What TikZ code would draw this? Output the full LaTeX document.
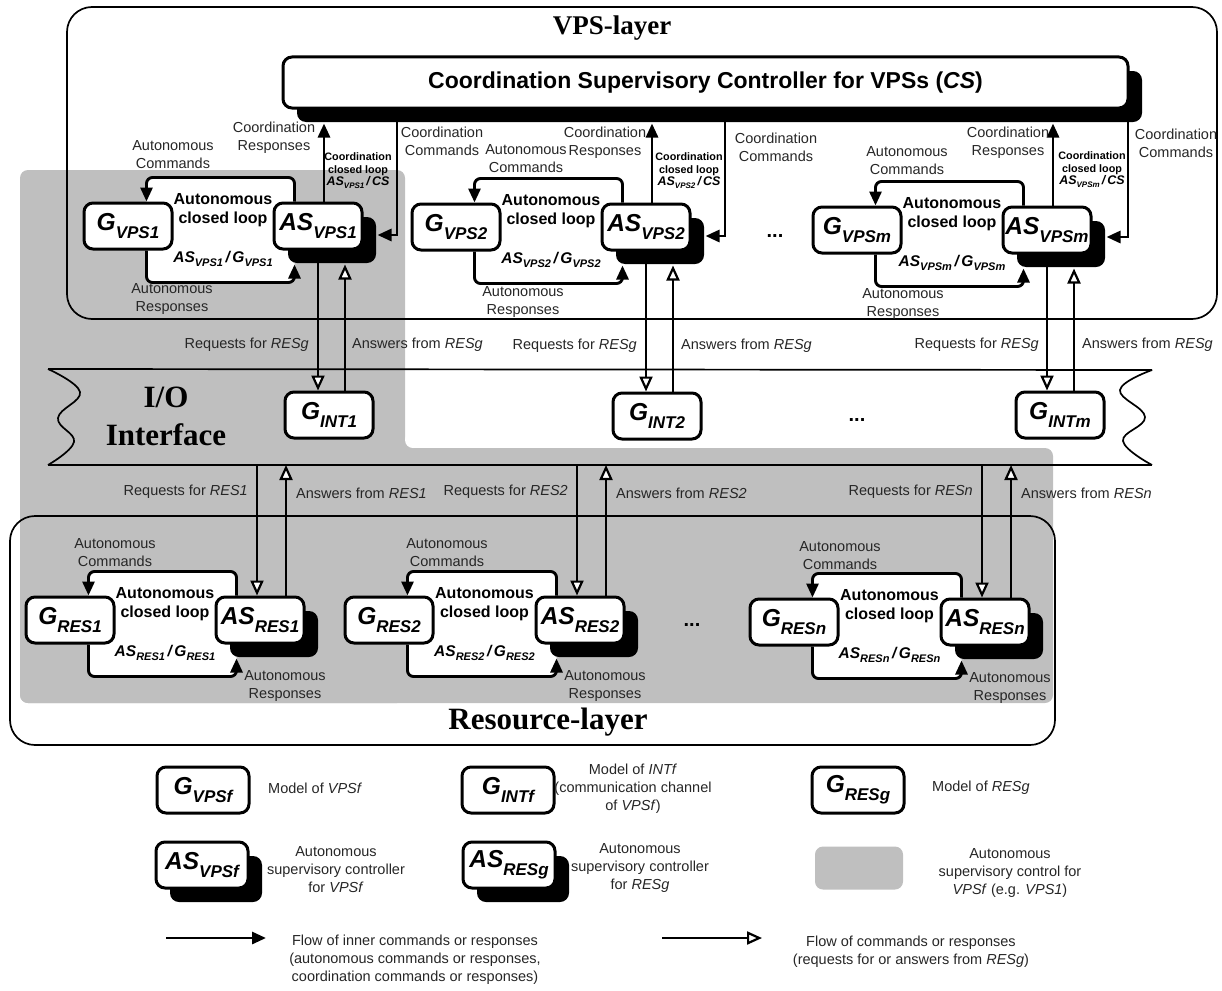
\documentclass[tikz,border=0pt]{standalone}
\usepackage{fontspec}
\setmainfont{Liberation Sans}
\newfontfamily\titlefont{Liberation Serif}
\usetikzlibrary{arrows.meta,calc,shadows}
\pgfdeclarelayer{back}
\pgfdeclarelayer{mid}
\pgfsetlayers{back,mid,main}
\definecolor{regiongray}{RGB}{191,191,191}
\newcommand{\nlab}[2]{{\fontsize{24.5}{24.5}\selectfont\bfseries\itshape #1\raisebox{-8pt}{\fontsize{17}{17}\selectfont #2}}}
\newcommand{\looplab}[4]{{\fontsize{15.5}{15.5}\selectfont\bfseries\itshape #1\raisebox{-4pt}{\fontsize{11}{11}\selectfont #2}\,/\,#3\raisebox{-4pt}{\fontsize{11}{11}\selectfont #4}}}
\newcommand{\cclab}[1]{Coordination\\closed loop\\{\fontsize{12.5}{12.5}\selectfont\itshape AS\raisebox{-3pt}{\fontsize{8}{8}\selectfont #1}\,/\,CS}}
\tikzset{
 mbox/.style={draw, line width=3pt, rounded corners=9pt, fill=white, minimum width=88pt, minimum height=46pt, inner sep=0pt},
 asbox/.style={mbox, drop shadow={shadow xshift=14pt, shadow yshift=-14pt, opacity=1, fill=black}},
 lbl/.style={font=\fontsize{14.5}{18}\selectfont, align=center, inner sep=0pt, text=black!85},
 blbl/.style={font=\fontsize{16}{19}\selectfont\bfseries, align=center, inner sep=0pt},
 clbl/.style={font=\fontsize{10.8}{12.5}\selectfont\bfseries, align=center, inner sep=0pt},
 plain/.style={inner sep=0pt},
 ttl/.style={font=\titlefont\bfseries\fontsize{31}{38}\selectfont, align=center, inner sep=0pt},
 dots/.style={font=\fontsize{20}{20}\selectfont\bfseries, inner sep=0pt},
 conn/.style={line width=2.9pt},
 sarr/.style={conn, -{Triangle[length=14pt,width=12pt]}},
 oarr/.style={conn, -{Triangle[open,length=15pt,width=13pt,line width=2.2pt,fill=white]}},
 layerbox/.style={line width=1.7pt, rounded corners=25pt},
 band/.style={line width=1.7pt},
 loopfill/.style={fill=white, rounded corners=6pt},
 loopline/.style={sarr, rounded corners=6pt},
}
\begin{document}
\begin{tikzpicture}[x=1pt,y=-1pt]
\useasboundingbox (0,0) rectangle (1222,990);
% grey region
\begin{pgfonlayer}{back}
 \fill[regiongray, rounded corners=8pt] (20,170) rectangle (405,703);
 \fill[regiongray, rounded corners=8pt] (20,448) rectangle (1053,703);
 \fill[regiongray] (404,440) rectangle (413,449);
 \fill[white] (413,440) circle (8pt);
\end{pgfonlayer}
% layers
\draw[layerbox] (67,7) rectangle (1217,319);
\draw[layerbox] (10,516) rectangle (1055,745);
\node[ttl, font=\titlefont\bfseries\fontsize{27}{27}\selectfont] (vpsttl) at (612,28) {VPS-layer};
\node[ttl] (resttl) at (548,722) {Resource-layer};
% I/O band
\draw[band] (48,369) -- (1152,370);
\draw[band] (48,465) -- (1152,465);
\draw[band] plot[smooth, tension=0.7] coordinates {(48,369) (80,392) (58,418) (74,442) (48,465)};
\draw[band] plot[smooth, tension=0.7] coordinates {(1152,370) (1120,390) (1145,417) (1123,441) (1152,465)};
\node[ttl] (io) at (166,416) {I/O\\Interface};
\coordinate (bandb) at (0,465);
% CS
\node[asbox, minimum width=845pt, minimum height=51pt] (cs) at (705.5,82.5) {\fontsize{23}{23}\selectfont\bfseries Coordination Supervisory Controller for VPSs (\textit{CS})};
\coordinate (csb) at ($(cs.south)+(0,14)$);

% ---------------- VPS1
\node[mbox] (g1) at (128,226) {\nlab{G}{VPS1}};
\node[asbox] (as1) at (318,226) {\nlab{AS}{VPS1}};
\node[mbox] (gi1) at (329,415) {\nlab{G}{INT1}};
\begin{pgfonlayer}{mid}
\fill[loopfill] ([xshift=-27pt,yshift=24pt]g1.north east) rectangle ([xshift=22pt,yshift=-32pt]as1.south west);
\end{pgfonlayer}
\draw[loopline] ([xshift=22pt]as1.north west) -- ++(0,-24) -| ([xshift=-27pt]g1.north east);
\draw[loopline] ([xshift=-27pt]g1.south east) -- ++(0,32) -| ([xshift=22pt,yshift=-14pt]as1.south west);
\coordinate (r1) at ($(as1.north)+(6,0)$);
\draw[sarr] (r1) -- (r1 |- csb);
\coordinate (k1) at ($(as1.center)+(79,9)$);
\coordinate (s1) at ($(as1.east)+(14,0)$);
\draw[sarr] (k1 |- cs.south) -- (k1) -- (k1 -| s1);
\coordinate (a1) at ($(as1.south)+(27,14)$);
\draw[oarr] (as1.south) -- (as1.south |- gi1.north);
\draw[oarr] (a1 |- gi1.north) -- (a1);
\node[blbl] (acl1) at ($(g1.east)!0.5!(as1.west)+(0,-16)$) {Autonomous\\closed loop};
\node[plain] (ag1) at ($(g1.east)!0.5!(as1.west)+(0,33)$) {\looplab{AS}{VPS1}{G}{VPS1}};
\node[lbl] (ac1) at (173,155) {Autonomous\\Commands};
\node[lbl] (ar1t) at (172,299) {Autonomous\\Responses};
\node[lbl] (cr1) at (274,138) {Coordination\\Responses};
\node[lbl] (cc1) at (442,141) {Coordination\\Commands};
\node[clbl] (ccl1) at (358,171) {\cclab{VPS1}};
\node[lbl, anchor=east] (rq1) at (309,345) {Requests for \textit{RESg}};
\node[lbl, anchor=west] (an1) at (352,345) {Answers from \textit{RESg}};

% ---------------- VPS2
\node[mbox] (g2) at (456,227) {\nlab{G}{VPS2}};
\node[asbox] (as2) at (646,227) {\nlab{AS}{VPS2}};
\node[mbox] (gi2) at (657,416) {\nlab{G}{INT2}};
\begin{pgfonlayer}{mid}
\fill[loopfill] ([xshift=-27pt,yshift=24pt]g2.north east) rectangle ([xshift=22pt,yshift=-32pt]as2.south west);
\end{pgfonlayer}
\draw[loopline] ([xshift=22pt]as2.north west) -- ++(0,-24) -| ([xshift=-27pt]g2.north east);
\draw[loopline] ([xshift=-27pt]g2.south east) -- ++(0,32) -| ([xshift=22pt,yshift=-14pt]as2.south west);
\coordinate (r2) at ($(as2.north)+(6,0)$);
\draw[sarr] (r2) -- (r2 |- csb);
\coordinate (k2) at ($(as2.center)+(79,9)$);
\coordinate (s2) at ($(as2.east)+(14,0)$);
\draw[sarr] (k2 |- cs.south) -- (k2) -- (k2 -| s2);
\coordinate (a2) at ($(as2.south)+(27,14)$);
\draw[oarr] (as2.south) -- (as2.south |- gi2.north);
\draw[oarr] (a2 |- gi2.north) -- (a2);
\node[blbl] (acl2) at ($(g2.east)!0.5!(as2.west)+(0,-16)$) {Autonomous\\closed loop};
\node[plain] (ag2) at ($(g2.east)!0.5!(as2.west)+(0,33)$) {\looplab{AS}{VPS2}{G}{VPS2}};
\node[lbl] (ac2) at (526,159) {Autonomous\\Commands};
\node[lbl] (ar2t) at (523,302) {Autonomous\\Responses};
\node[lbl] (cr2) at (605,143) {Coordination\\Responses};
\node[lbl] (cc2) at (776,147) {Coordination\\Commands};
\node[clbl] (ccl2) at (689,171) {\cclab{VPS2}};
\node[lbl, anchor=east] (rq2) at (637,346) {Requests for \textit{RESg}};
\node[lbl, anchor=west] (an2) at (681,346) {Answers from \textit{RESg}};
\node[dots] (d1) at (775,236) {...};

% ---------------- VPSm
\node[mbox] (gm) at (857,230) {\nlab{G}{VPSm}};
\node[asbox] (asm) at (1047,230) {\nlab{AS}{VPSm}};
\node[mbox] (gim) at (1060,415) {\nlab{G}{INTm}};
\begin{pgfonlayer}{mid}
\fill[loopfill] ([xshift=-27pt,yshift=24pt]gm.north east) rectangle ([xshift=22pt,yshift=-32pt]asm.south west);
\end{pgfonlayer}
\draw[loopline] ([xshift=22pt]asm.north west) -- ++(0,-24) -| ([xshift=-27pt]gm.north east);
\draw[loopline] ([xshift=-27pt]gm.south east) -- ++(0,32) -| ([xshift=22pt,yshift=-14pt]asm.south west);
\coordinate (rm) at ($(asm.north)+(6,0)$);
\draw[sarr] (rm) -- (rm |- csb);
\coordinate (km) at ($(asm.center)+(81,7)$);
\coordinate (sm) at ($(asm.east)+(14,0)$);
\draw[sarr] (km |- cs.south) -- (km) -- (km -| sm);
\coordinate (am) at ($(asm.south)+(27,14)$);
\draw[oarr] (asm.south) -- (asm.south |- gim.north);
\draw[oarr] (am |- gim.north) -- (am);
\node[blbl] (aclm) at ($(gm.east)!0.5!(asm.west)+(0,-16)$) {Autonomous\\closed loop};
\node[plain] (agm) at ($(gm.east)!0.5!(asm.west)+(0,33)$) {\looplab{AS}{VPSm}{G}{VPSm}};
\node[lbl] (acm) at (907,161) {Autonomous\\Commands};
\node[lbl] (armt) at (903,304) {Autonomous\\Responses};
\node[lbl] (crm) at (1008,143) {Coordination\\Responses};
\node[lbl] (ccm) at (1176,143) {Coordination\\Commands};
\node[clbl] (cclm) at (1092,170) {\cclab{VPSm}};
\node[lbl, anchor=east] (rqm) at (1039,345) {Requests for \textit{RESg}};
\node[lbl, anchor=west] (anm) at (1082,345) {Answers from \textit{RESg}};
\node[dots] (d2) at (857,420) {...};

% ---------------- RES1
\node[mbox] (gr1) at (70,620) {\nlab{G}{RES1}};
\node[asbox] (ar1) at (260,620) {\nlab{AS}{RES1}};
\begin{pgfonlayer}{mid}
\fill[loopfill] ([xshift=-27pt,yshift=24pt]gr1.north east) rectangle ([xshift=22pt,yshift=-32pt]ar1.south west);
\end{pgfonlayer}
\draw[loopline] ([xshift=22pt]ar1.north west) -- ++(0,-24) -| ([xshift=-27pt]gr1.north east);
\draw[loopline] ([xshift=-27pt]gr1.south east) -- ++(0,32) -| ([xshift=22pt,yshift=-14pt]ar1.south west);
\coordinate (q1) at ($(ar1.north)+(-3,0)$);
\coordinate (p1) at ($(ar1.north)+(26,0)$);
\draw[oarr] (q1 |- bandb) -- (q1);
\draw[oarr] (p1) -- (p1 |- bandb);
\node[blbl] (rcl1) at ($(gr1.east)!0.5!(ar1.west)+(0,-16)$) {Autonomous\\closed loop};
\node[plain] (rag1) at ($(gr1.east)!0.5!(ar1.west)+(0,33)$) {\looplab{AS}{RES1}{G}{RES1}};
\node[lbl] (rac1) at (115,553) {Autonomous\\Commands};
\node[lbl] (rar1) at (285,686) {Autonomous\\Responses};
\node[lbl, anchor=east] (rrq1) at (248,492) {Requests for \textit{RES1}};
\node[lbl, anchor=west] (ran1) at (296,493) {Answers from \textit{RES1}};

% ---------------- RES2
\node[mbox] (gr2) at (389,620) {\nlab{G}{RES2}};
\node[asbox] (ar2) at (580,620) {\nlab{AS}{RES2}};
\begin{pgfonlayer}{mid}
\fill[loopfill] ([xshift=-27pt,yshift=24pt]gr2.north east) rectangle ([xshift=22pt,yshift=-32pt]ar2.south west);
\end{pgfonlayer}
\draw[loopline] ([xshift=22pt]ar2.north west) -- ++(0,-24) -| ([xshift=-27pt]gr2.north east);
\draw[loopline] ([xshift=-27pt]gr2.south east) -- ++(0,32) -| ([xshift=22pt,yshift=-14pt]ar2.south west);
\coordinate (q2) at ($(ar2.north)+(-3,0)$);
\coordinate (p2) at ($(ar2.north)+(26,0)$);
\draw[oarr] (q2 |- bandb) -- (q2);
\draw[oarr] (p2) -- (p2 |- bandb);
\node[blbl] (rcl2) at ($(gr2.east)!0.5!(ar2.west)+(0,-16)$) {Autonomous\\closed loop};
\node[plain] (rag2) at ($(gr2.east)!0.5!(ar2.west)+(0,33)$) {\looplab{AS}{RES2}{G}{RES2}};
\node[lbl] (rac2) at (447,553) {Autonomous\\Commands};
\node[lbl] (rar2) at (605,686) {Autonomous\\Responses};
\node[lbl, anchor=east] (rrq2) at (568,492) {Requests for \textit{RES2}};
\node[lbl, anchor=west] (ran2) at (616,493) {Answers from \textit{RES2}};
\node[dots] (d3) at (692,625) {...};

% ---------------- RESn
\node[mbox] (grn) at (794,622) {\nlab{G}{RESn}};
\node[asbox] (arn) at (985,622) {\nlab{AS}{RESn}};
\begin{pgfonlayer}{mid}
\fill[loopfill] ([xshift=-27pt,yshift=24pt]grn.north east) rectangle ([xshift=22pt,yshift=-32pt]arn.south west);
\end{pgfonlayer}
\draw[loopline] ([xshift=22pt]arn.north west) -- ++(0,-24) -| ([xshift=-27pt]grn.north east);
\draw[loopline] ([xshift=-27pt]grn.south east) -- ++(0,32) -| ([xshift=22pt,yshift=-14pt]arn.south west);
\coordinate (qn) at ($(arn.north)+(-3,0)$);
\coordinate (pn) at ($(arn.north)+(26,0)$);
\draw[oarr] (qn |- bandb) -- (qn);
\draw[oarr] (pn) -- (pn |- bandb);
\node[blbl] (rcln) at ($(grn.east)!0.5!(arn.west)+(0,-16)$) {Autonomous\\closed loop};
\node[plain] (ragn) at ($(grn.east)!0.5!(arn.west)+(0,33)$) {\looplab{AS}{RESn}{G}{RESn}};
\node[lbl] (racn) at (840,556) {Autonomous\\Commands};
\node[lbl] (rarn) at (1010,688) {Autonomous\\Responses};
\node[lbl, anchor=east] (rrqn) at (973,492) {Requests for \textit{RESn}};
\node[lbl, anchor=west] (rann) at (1021,493) {Answers from \textit{RESn}};

% ---------------- legend
\node[mbox, minimum width=92pt] (lg1) at (203,790) {\nlab{G}{VPSf}};
\node[lbl, anchor=west] (lt1) at (268,788) {Model of \textit{VPSf}};
\node[mbox, minimum width=92pt] (lg2) at (508,790) {\nlab{G}{INTf}};
\node[lbl] (lt2) at (633,789) {Model of \textit{INTf}\\(communication channel\\of \textit{VPSf})};
\node[mbox, minimum width=92pt] (lg3) at (858,790) {\nlab{G}{RESg}};
\node[lbl, anchor=west] (lt3) at (932,788) {Model of \textit{RESg}};
\node[asbox, minimum width=92pt] (la1) at (202,865) {\nlab{AS}{VPSf}};
\node[lbl] (lt4) at (336,870) {Autonomous\\supervisory controller\\for \textit{VPSf}};
\node[asbox, minimum width=92pt] (la2) at (509,865) {\nlab{AS}{RESg}};
\node[lbl] (lt5) at (640,868) {Autonomous\\supervisory controller\\for \textit{RESg}};
\node[fill=regiongray, rounded corners=8pt, minimum width=88pt, minimum height=43pt, inner sep=0pt] (lgr) at (859,868) {};
\node[lbl] (lt6) at (1010,873) {Autonomous\\supervisory control for\\\textit{VPSf} (e.g. \textit{VPS1})};
\coordinate (la) at (166,938);
\coordinate (lb) at (266,938);
\draw[sarr] (la) -- (lb);
\node[lbl] (lt7) at (415,960) {Flow of inner commands or responses\\(autonomous commands or responses,\\coordination commands or responses)};
\coordinate (lc) at (662,938);
\coordinate (ld) at (762,938);
\draw[oarr] (lc) -- (ld);
\node[lbl] (lt8) at (911,952) {Flow of commands or responses\\(requests for or answers from \textit{RESg})};
\end{tikzpicture}
\end{document}
